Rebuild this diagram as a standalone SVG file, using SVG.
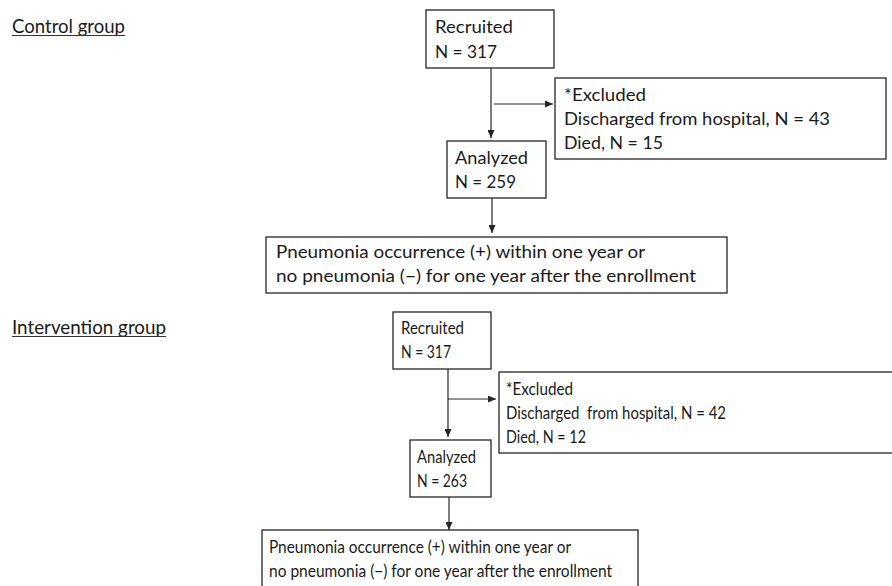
<svg xmlns="http://www.w3.org/2000/svg" width="892" height="586" viewBox="0 0 892 586">
<style>
.box{fill:#fff;stroke:#262626;stroke-width:1.3}
.t{font-family:Lato,"Liberation Sans",Arial,sans-serif;font-size:18px;fill:#1a1a1a}
.s{font-family:Lato,"Liberation Sans",Arial,sans-serif;font-size:16.5px;fill:#1a1a1a}
.lab{font-family:Lato,"Liberation Sans",Arial,sans-serif;font-size:18.5px;fill:#1a1a1a}
.c{fill:none;stroke:#262626;stroke-width:1.2}
.ul{stroke:#333;stroke-width:1.2}
</style>
<defs>
<marker id="ah" markerUnits="userSpaceOnUse" markerWidth="8" markerHeight="7" refX="8" refY="3.5" orient="auto">
<path d="M0,0 L8,3.5 L0,7 z" fill="#262626"/>
</marker>
</defs>
<rect width="892" height="586" fill="#fff"/>

<g id="label-control">
<text class="lab" x="12" y="33" textLength="113" lengthAdjust="spacingAndGlyphs">Control group</text>
<line class="ul" x1="12" y1="35.5" x2="125" y2="35.5"/>
</g>
<g id="label-intervention">
<text class="lab" x="12" y="334" textLength="154" lengthAdjust="spacingAndGlyphs">Intervention group</text>
<line class="ul" x1="12" y1="336.5" x2="166" y2="336.5"/>
</g>

<g id="connectors">
<line class="c" x1="491" y1="68" x2="491" y2="138" marker-end="url(#ah)"/>
<line class="c" x1="494" y1="104" x2="553" y2="104" marker-end="url(#ah)"/>
<line class="c" x1="492" y1="198" x2="492" y2="233" marker-end="url(#ah)"/>
<line class="c" x1="448" y1="369" x2="448" y2="437" marker-end="url(#ah)"/>
<line class="c" x1="448" y1="399" x2="496" y2="399" marker-end="url(#ah)"/>
<line class="c" x1="449" y1="497" x2="449" y2="530" marker-end="url(#ah)"/>
</g>

<g id="c-recruited">
<rect class="box" x="426" y="10" width="128" height="58"/>
<text class="t" x="435" y="33" textLength="78" lengthAdjust="spacingAndGlyphs">Recruited</text>
<text class="t" x="435" y="58" textLength="62" lengthAdjust="spacingAndGlyphs">N = 317</text>
</g>
<g id="c-excluded">
<rect class="box" x="555" y="78" width="331" height="81"/>
<text class="t" x="564" y="101" textLength="82" lengthAdjust="spacingAndGlyphs">*Excluded</text>
<text class="t" x="564" y="125" textLength="266" lengthAdjust="spacingAndGlyphs">Discharged from hospital, N = 43</text>
<text class="t" x="564" y="149" textLength="99" lengthAdjust="spacingAndGlyphs">Died, N = 15</text>
</g>
<g id="c-analyzed">
<rect class="box" x="447" y="141" width="99" height="57"/>
<text class="t" x="455" y="164" textLength="73" lengthAdjust="spacingAndGlyphs">Analyzed</text>
<text class="t" x="455" y="188" textLength="61" lengthAdjust="spacingAndGlyphs">N = 259</text>
</g>
<g id="c-outcome">
<rect class="box" x="266" y="237" width="461" height="56"/>
<text class="t" x="276" y="258" textLength="369" lengthAdjust="spacingAndGlyphs">Pneumonia occurrence (+) within one year or</text>
<text class="t" x="276" y="282" textLength="420" lengthAdjust="spacingAndGlyphs">no pneumonia (−) for one year after the enrollment</text>
</g>

<g id="i-recruited">
<rect class="box" x="393" y="312" width="98" height="57"/>
<text class="s" x="401" y="334" textLength="63" lengthAdjust="spacingAndGlyphs">Recruited</text>
<text class="s" x="401" y="358" textLength="50" lengthAdjust="spacingAndGlyphs">N = 317</text>
</g>
<g id="i-excluded">
<rect class="box" x="499" y="372" width="400" height="81"/>
<text class="s" x="506" y="395" textLength="67" lengthAdjust="spacingAndGlyphs">*Excluded</text>
<text class="s" x="506" y="419" textLength="220" lengthAdjust="spacingAndGlyphs" xml:space="preserve">Discharged  from hospital, N = 42</text>
<text class="s" x="506" y="443" textLength="80" lengthAdjust="spacingAndGlyphs">Died, N = 12</text>
</g>
<g id="i-analyzed">
<rect class="box" x="410" y="440" width="81" height="57"/>
<text class="s" x="417" y="463" textLength="59" lengthAdjust="spacingAndGlyphs">Analyzed</text>
<text class="s" x="417" y="487" textLength="50" lengthAdjust="spacingAndGlyphs">N = 263</text>
</g>
<g id="i-outcome">
<rect class="box" x="262" y="530" width="376" height="70"/>
<text class="s" x="269" y="553" textLength="302" lengthAdjust="spacingAndGlyphs">Pneumonia occurrence (+) within one year or</text>
<text class="s" x="269" y="577" textLength="343" lengthAdjust="spacingAndGlyphs">no pneumonia (−) for one year after the enrollment</text>
</g>
</svg>
